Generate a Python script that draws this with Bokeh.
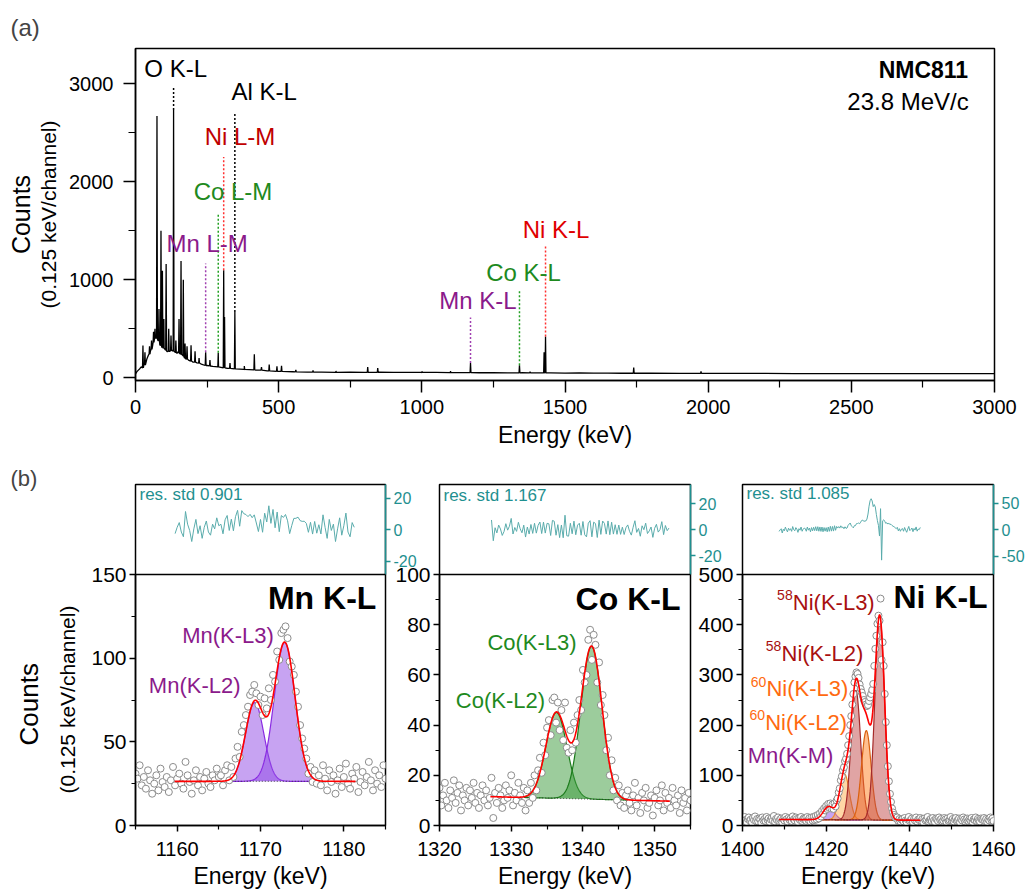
import numpy as np
from bokeh.plotting import figure
from bokeh.models import Range1d, LinearAxis, FixedTicker, Label, Span, Title
from bokeh.layouts import column, row
from bokeh.embed import file_html
from bokeh.resources import INLINE

FONT = "Liberation Sans"
TEAL = "#1f9090"
RESLINE = "#5aacac"

# ---------------- (a) full spectrum ----------------
spec_base_e = [0, 5, 10, 15, 20, 30, 40, 45, 52, 60, 66, 71, 78, 85, 92, 100, 110, 120, 128, 138,
               145, 150, 165, 175, 185, 200, 215, 230, 250, 270, 290, 320, 350, 380, 420, 460, 500, 550, 600, 650,
               700, 750, 800, 850, 900, 950, 1000, 1050, 1100, 1150, 1200, 1250, 1300, 1350, 1400, 1450, 1500, 1550, 1600, 1650,
               1700, 1800, 1900, 2000, 2100, 2200, 2300, 2400, 2500, 2600, 2700, 2800, 2900, 3000]
spec_base_c = [40, 62, 78, 92, 112, 150, 195, 230, 270, 330, 390, 420, 380, 335, 310, 300, 265, 270, 280, 262,
               250, 268, 228, 192, 180, 160, 152, 138, 125, 116, 108, 97, 90, 84, 78, 70, 66, 61, 58, 57,
               55, 56, 54, 56, 54, 55, 53, 54, 52, 53, 51, 52, 50, 51, 49, 50, 48, 49, 47, 48,
               46, 46, 45, 45, 44, 44, 43, 43, 43, 42, 42, 42, 42, 42]
spec_peak_e = [26, 33, 49, 56, 63, 68, 75, 82, 89, 94, 99, 107, 116, 124, 133, 141, 152, 159, 167, 173,
               180, 194, 208, 222, 245, 260, 289, 308, 311, 330, 347, 380, 415, 440, 467, 494, 510, 560, 620, 700,
               811, 846, 1000, 1100, 1170, 1341, 1378, 1427, 1432, 1740, 1975]
spec_peak_c = [330, 260, 320, 380, 470, 500, 2670, 700, 1500, 1090, 600, 1160, 500, 430, 2730, 380, 600, 1190, 1000, 350,
               320, 330, 270, 200, 260, 180, 255, 1095, 620, 150, 670, 120, 240, 110, 135, 118, 122, 80, 75, 70,
               110, 100, 65, 68, 150, 128, 62, 260, 420, 105, 65]
spec_peak_foot = [100, 130, 240, 290, 360, 400, 400, 380, 330, 310, 300, 280, 270, 275, 270, 255, 250, 240, 220, 200,
                  190, 170, 160, 150, 125, 120, 110, 100, 100, 95, 90, 85, 80, 78, 70, 66, 65, 60, 57, 55,
                  55, 55, 55, 53, 52, 50, 50, 50, 50, 46, 44]

marker_e = [133, 347, 308, 289, 245, 1170, 1341, 1432]
marker_lo = [2730, 670, 1095, 255, 260, 150, 128, 420]
marker_hi = [2965, 2710, 2250, 1675, 1165, 615, 890, 1350]
marker_color = ["#000000", "#000000", "#ff3030", "#22a022", "#a040b0", "#a040b0", "#22a022", "#ff3030"]

top_label_text = ["O K-L", "Al K-L", "Ni L-M", "Co L-M", "Mn L-M", "Mn K-L", "Co K-L", "Ni K-L"]
top_label_x = [30.7, 449, 365, 340.5, 250, 1196, 1355, 1469]
top_label_y = [3153, 2914, 2455, 1894, 1367, 789, 1074, 1513]
top_label_align = ["left", "center", "center", "center", "center", "center", "center", "center"]
top_label_color = ["#000000", "#000000", "#c00000", "#1e8a1e", "#8b1a8b", "#8b1a8b", "#1e8a1e", "#e00000"]

top_xticks = [0, 500, 1000, 1500, 2000, 2500, 3000]
top_xminor = [250, 750, 1250, 1750, 2250, 2750]
top_yticks = [0, 1000, 2000, 3000]
top_yminor = [500, 1500, 2500]

# ---------------- (b) zoomed peaks ----------------
mn_counts = [31, 28, 36, 24, 29, 22, 33, 27, 19, 25, 30, 21, 34, 26, 23, 29, 20, 27, 35, 24,
             28, 31, 25, 22, 38, 30, 26, 19, 27, 33, 24, 29, 21, 28, 32, 25, 23, 30, 27, 34, 29,
             30, 24, 33, 36, 27, 35, 29, 40, 47, 41, 56, 60, 66, 71, 78, 80, 84, 79, 72, 77,
             66, 76, 70, 82, 75, 90, 86, 104, 99, 115, 117, 119, 112, 98, 95, 90, 80, 71, 60, 52,
             46, 40, 31, 35, 26, 33, 25, 30,
             24, 36, 28, 21, 33, 26, 30, 19, 27, 34, 23, 29, 37, 25, 22, 31, 28, 35, 20, 26,
             32, 24, 29, 38, 27, 21, 33, 25, 30, 23, 36, 28]
co_counts = [15, 8, 12, 17, 10, 7, 14, 11, 18, 9, 13, 16, 6, 12, 10, 15, 8, 14, 11, 17,
             9, 13, 7, 12, 16, 10, 14, 8, 11, 19, 3, 13, 9, 15, 12, 7, 10, 16, 11, 14,
             20, 8, 13, 10, 17, 12, 9, 15,
             6, 14, 9, 17, 11, 20, 14, 22, 27, 21, 33, 28, 39, 42, 36, 50, 51, 41, 49, 38,
             46, 34, 49, 31, 29, 38, 30, 41, 33, 44, 50, 46, 62, 57, 60, 74, 78, 66, 76, 72,
             57, 65, 48, 52, 44, 30, 35, 20, 26, 14, 19, 10, 16, 8, 13, 7, 12,
             14, 9, 6, 12, 17, 8, 11, 5, 13, 10, 15, 7, 9, 12, 4, 11, 14, 8, 10, 16,
             6, 13, 9, 11, 7, 15, 10, 8, 12, 5, 14, 9, 11, 6, 13, 10]
ni_counts = [14, 9, 17, 11, 7, 13, 16, 10, 12, 6, 15, 11, 18, 9, 13, 8, 14, 12, 5, 16,
             10, 13, 9, 17, 11, 14, 7, 12, 15, 10, 19, 8, 13, 11, 16, 9, 12, 14, 6, 13,
             10, 17, 12, 8, 15, 11, 14, 9, 18, 12, 10, 16, 13, 7, 14, 11, 17, 9, 13, 15,
             14, 9, 17, 11, 15, 8, 16, 10, 17, 11, 19, 12, 21, 14, 24, 18, 29, 23, 34, 30,
             39, 33, 43, 35, 44, 34, 42, 33, 44, 38, 50, 54, 66, 74, 90, 98, 110, 116, 128, 133,
             143, 160, 178, 200, 218, 241, 262, 285, 297, 305, 302, 294, 281, 272, 265, 258, 250, 246, 241, 238,
             240, 248, 255, 262, 270, 282, 318, 352, 378, 402, 418, 408, 452, 330, 365, 318, 262, 206, 160, 118,
             88, 63, 47, 34, 26, 21, 17, 14, 16, 9, 13, 8, 12,
             13, 8, 15, 10, 6, 12, 17, 9, 11, 14, 7, 13, 10, 16, 8, 12, 11, 15, 9, 13,
             6, 14, 10, 12, 17, 8, 11, 13, 9, 15, 10, 7, 14, 12, 9, 16, 11, 13, 8, 10,
             15, 12, 7, 14, 9, 11, 17, 10, 13, 8, 12, 15, 9, 11, 14, 6, 13, 10, 16, 12,
             8, 11, 14, 9, 13, 10, 15, 7, 12, 11, 16, 9, 13, 10, 8, 14, 12, 11, 15, 9,
             13, 7, 12, 10, 16, 11, 14, 9]
CHANNEL = 0.25

# fit parameters
mn_fit = dict(range=(1159.7, 1181.4), base=(26.4, 26.4), centers=[1169.3, 1172.9], amps=[47.0, 83.0],
              sigmas=[1.1, 1.25], span=(1166.2, 1176.4))
co_fit = dict(range=(1327.1, 1352.1), base=(11.5, 9.7), centers=[1336.3, 1341.2], amps=[34.2, 60.9],
              sigmas=[1.47, 1.47], span=(1331.8, 1346.6))
ni_fit = dict(range=(1408.7, 1442.5), base=(12.0, 10.5),
              centers=[1420.6, 1424.4, 1427.1, 1429.6, 1432.8], amps=[26, 91, 258, 178, 405],
              sigmas=[1.3, 1.15, 1.15, 1.15, 1.15], span=(1417.0, 1437.0))


def comps(x, P):
    return [a * np.exp(-0.5 * ((x - c) / s) ** 2) for c, a, s in zip(P["centers"], P["amps"], P["sigmas"])]


def base(x, P):
    lo, hi = P["range"]
    b0, b1 = P["base"]
    return b0 + (b1 - b0) * (np.asarray(x, dtype=float) - lo) / (hi - lo)


def style_axis(ax, size, color="black", tick_out=6, minor_out=4):
    ax.axis_line_width = 1.5
    ax.axis_line_color = color
    ax.major_tick_line_width = 1.5
    ax.minor_tick_line_width = 1.2
    ax.major_tick_line_color = color
    ax.minor_tick_line_color = color
    ax.major_tick_in = 0
    ax.minor_tick_in = 0
    ax.major_tick_out = tick_out
    ax.minor_tick_out = minor_out
    ax.major_label_text_font = FONT
    ax.major_label_text_font_size = size
    ax.major_label_text_color = color


def axis_title(ax, text, size, standoff):
    ax.axis_label = text
    ax.axis_label_text_font = FONT
    ax.axis_label_text_font_size = f"{size}px"
    ax.axis_label_text_font_style = "normal"
    ax.axis_label_text_color = "black"
    ax.axis_label_standoff = standoff


def outer_label_axis(p, text, size, standoff):
    ax = LinearAxis(ticker=FixedTicker(ticks=[]), axis_line_color=None, major_tick_out=0, minor_tick_out=0,
                    major_tick_in=0, minor_tick_in=0, major_label_standoff=0)
    axis_title(ax, text, size, standoff)
    p.add_layout(ax, "left")


def side_title(p, text, size, standoff, offset):
    # align "left" on a left-hand title starts the text at the frame bottom, offset moves it up
    p.add_layout(Title(text=text, align="left", offset=offset, standoff=standoff, text_font=FONT,
                       text_font_size=f"{size}px", text_font_style="normal", text_color="black"), "left")


def lab(p, x, y, text, size, color="black", align="left", baseline="middle", bold=False,
        angle=0.0, xo=0, yo=0, yr="default"):
    p.add_layout(Label(x=x, y=y, text=text, x_offset=xo, y_offset=yo, text_font=FONT,
                       text_font_size=f"{size}px", text_color=color, text_align=align,
                       text_baseline=baseline, text_font_style="bold" if bold else "normal",
                       angle=angle, y_range_name=yr))


def set_title(p, text, size, standoff):
    p.title.text = text
    p.title.text_font = FONT
    p.title.text_font_size = f"{size}px"
    p.title.text_font_style = "normal"
    p.title.align = "left"
    p.title.offset = -125
    p.title.standoff = standoff


# ---------- top figure ----------
top = figure(width=1020, height=455, x_range=Range1d(0, 3000), y_range=Range1d(-28, 3357),
             output_backend="svg", toolbar_location=None, title="(a)",
             min_border_left=135, min_border_right=26, min_border_top=48, min_border_bottom=75)
set_title(top, "(a)", 24, 16)
top.grid.visible = False
top.outline_line_color = "black"
top.outline_line_width = 1.5
xa = top.xaxis[0]
xa.ticker = FixedTicker(ticks=top_xticks, minor_ticks=top_xminor)
style_axis(xa, "20px", tick_out=12, minor_out=7)
xa.major_label_standoff = 7
axis_title(xa, "Energy (keV)", 23, 5)
ya = top.yaxis[0]
ya.ticker = FixedTicker(ticks=top_yticks, minor_ticks=top_yminor)
style_axis(ya, "20px", tick_out=12, minor_out=7)
ya.major_label_standoff = 10
axis_title(ya, "(0.125 keV/channel)", 21, 6)
outer_label_axis(top, "Counts", 25, 0)

pts = list(zip(spec_base_e, spec_base_c))
for e, h, f in zip(spec_peak_e, spec_peak_c, spec_peak_foot):
    pts += [(e - 1.5, f), (e, h), (e + 1.5, f)]
pts.sort()
top.line([q[0] for q in pts], [q[1] for q in pts], line_color="black", line_width=1.3)
top.segment(x0=marker_e, y0=marker_lo, x1=marker_e, y1=marker_hi, line_color=marker_color,
            line_dash="2 2", line_width=1.5)
for t, x, y, al, col in zip(top_label_text, top_label_x, top_label_y, top_label_align, top_label_color):
    lab(top, x, y, t, 24, col, align=al)
lab(top, 2908, 3136, "NMC811", 23, align="right", bold=True)
lab(top, 2910, 2812, "23.8 MeV/c", 24, align="right")


# ---------- bottom panels ----------
def make_panel(counts, e0, P, xr, main_top, y_top, res_range, res_bounds, res_ticks,
               xt, xm, yt, ym, width, bl, br, fills, lines, res_text, res_text_y):
    e = e0 + CHANNEL * np.arange(len(counts))
    c = np.asarray(counts, dtype=float)
    p = figure(width=width, height=438, x_range=Range1d(*xr), y_range=Range1d(0, y_top),
               output_backend="svg", toolbar_location=None,
               min_border_left=bl, min_border_right=br, min_border_top=29, min_border_bottom=68)
    p.grid.visible = False
    p.outline_line_color = "black"
    p.outline_line_width = 1.5
    p.border_fill_color = None
    p.extra_y_ranges = {"res": Range1d(*res_range)}
    xa = p.xaxis[0]
    xa.ticker = FixedTicker(ticks=xt, minor_ticks=xm)
    style_axis(xa, "20px")
    xa.major_label_standoff = 10
    axis_title(xa, "Energy (keV)", 23, 4)
    ya = p.yaxis[0]
    ya.ticker = FixedTicker(ticks=yt, minor_ticks=ym)
    ya.bounds = (0, main_top)
    style_axis(ya, "21px")
    ya.major_label_standoff = 3
    ra = LinearAxis(y_range_name="res", ticker=FixedTicker(ticks=res_ticks, minor_ticks=[]),
                    bounds=res_bounds, major_label_overrides={t: str(t) for t in res_ticks})
    style_axis(ra, "16px", color=TEAL, tick_out=5)
    ra.major_label_standoff = 3
    p.add_layout(ra, "right")
    p.add_layout(Span(location=main_top, dimension="width", line_color="black", line_width=1.5))

    # components
    xs = np.linspace(P["span"][0], P["span"][1], 300)
    bs = base(xs, P)
    for comp, fc, lc in zip(comps(xs, P), fills, lines):
        p.varea(x=xs, y1=bs, y2=bs + comp, fill_color=fc, fill_alpha=0.5)
        p.line(xs, bs + comp, line_color=lc, line_width=1.2)
    p.line(xs, bs, line_color="#333333", line_dash="1 2", line_width=1)
    p.scatter(e, c, marker="circle", size=7, fill_color="white", line_color="#8c8c8c", line_width=1)
    xf = np.linspace(P["range"][0], P["range"][1], 500)
    p.line(xf, base(xf, P) + np.sum(comps(xf, P), axis=0), line_color="#ff0000", line_width=1.6)
    # residuals
    m = (e >= P["range"][0]) & (e <= P["range"][1])
    ef = e[m]
    res = c[m] - (base(ef, P) + np.sum(comps(ef, P), axis=0))
    p.line(ef, res, y_range_name="res", line_color=RESLINE, line_width=1)
    lab(p, xr[0], res_text_y, res_text, 17, TEAL, xo=4, yr="res")
    return p


mn_col = ["#8f47e5", "#8f47e5"]
mn_line = ["#8a2be2", "#8a2be2"]
co_col = ["#3a9a3a", "#3a9a3a"]
co_line = ["#1b7a1b", "#1b7a1b"]
ni_col = ["#8f47e5", "#ffb04d", "#c24a4a", "#ff8020", "#c24a4a"]
ni_line = ["#8a2be2", "#f08a24", "#a52a2a", "#d9600f", "#a52a2a"]

f1 = make_panel(mn_counts, 1155.0, mn_fit, (1155, 1185), 150, 203.8, (-187.2, 28.7), (-28.3, 28.7), [-20, 0, 20],
                [1160, 1170, 1180], [1155, 1165, 1175, 1185], [0, 50, 100, 150], [25, 75, 125],
                421, 135, 36, mn_col, mn_line, "res. std 0.901", 22.3)
f2 = make_panel(co_counts, 1320.0, co_fit, (1320, 1355), 100, 135.9, (-227.5, 34.8), (-34.4, 34.8), [-20, 0, 20],
                [1320, 1330, 1340, 1350], [1325, 1335, 1345, 1355], [0, 20, 40, 60, 80, 100], [10, 30, 50, 70, 90],
                336, 49, 36, co_col, co_line, "res. std 1.167", 26.4)
f3 = make_panel(ni_counts, 1400.0, ni_fit, (1400, 1460), 500, 679.3, (-557.9, 85.5), (-84.3, 85.5), [-50, 0, 50],
                [1400, 1420, 1440, 1460], [1410, 1430, 1450], [0, 100, 200, 300, 400, 500], [50, 150, 250, 350, 450],
                334, 48, 35, ni_col, ni_line, "res. std 1.085", 68.5)
# let the panels' side margins overlap so that the residual-axis numbers keep their place
f2.margin = (0, 0, 0, -31)
f3.margin = (0, 0, 0, -32)

f1.border_fill_color = "white"
set_title(f1, "(b)", 22, -12)
side_title(f1, "(0.125 keV/channel)", 21, 20, 32)
side_title(f1, "Counts", 26, 0, 80)

PURPLE = "#8b1a8b"
GREEN = "#1e8a1e"
DRED = "#a81010"
ORANGE = "#ff6a10"
lab(f1, 1183.9, 135.7, "Mn K-L", 32, align="right", bold=True)
lab(f1, 1166.1, 113.5, "Mn(K-L3)", 22, PURPLE, align="center")
lab(f1, 1162.1, 83.7, "Mn(K-L2)", 22, PURPLE, align="center")

lab(f2, 1353.6, 90.4, "Co K-L", 32, align="right", bold=True)
lab(f2, 1332.9, 73.0, "Co(K-L3)", 22, GREEN, align="center")
lab(f2, 1328.5, 49.8, "Co(K-L2)", 22, GREEN, align="center")

lab(f3, 1458.6, 456, "Ni K-L", 32, align="right", bold=True)
ni_lab = [("58", "Ni(K-L3)", 1431.6, 444.8, DRED), ("58", "Ni(K-L2)", 1428.9, 343.2, DRED),
          ("60", "Ni(K-L3)", 1425.3, 272.9, ORANGE), ("60", "Ni(K-L2)", 1425.0, 205.8, ORANGE)]
for sup, txt, x, y, col in ni_lab:
    lab(f3, x, y, txt, 22, col, align="right")
    lab(f3, x, y, sup, 14, col, align="right", xo=-82, yo=7)
lab(f3, 1421.7, 139.4, "Mn(K-M)", 22, PURPLE, align="right")

layout = column(top, row(f1, f2, f3))
open("out.html", "w").write(file_html(layout, INLINE))
